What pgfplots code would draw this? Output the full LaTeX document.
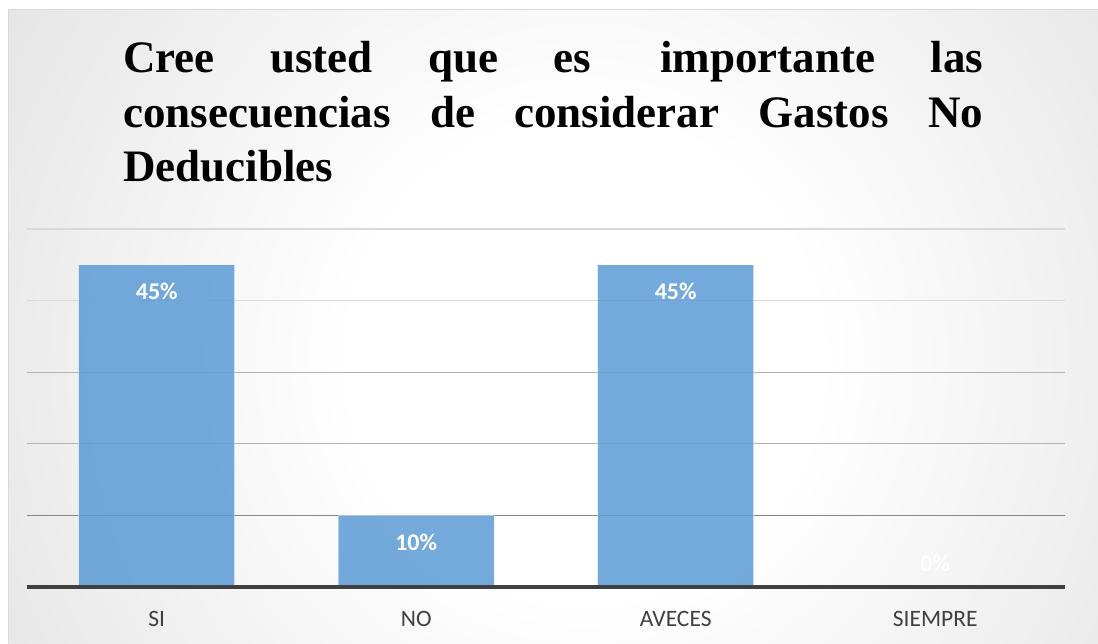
\documentclass[border=0pt]{standalone}
\usepackage{fontspec}
\setmainfont{Liberation Serif}
\newfontfamily\carlito{Carlito}
\usepackage{pgfplots}
\pgfplotsset{compat=1.18}
\definecolor{barblue}{RGB}{91,155,213}
\definecolor{axisdark}{RGB}{64,64,64}
\definecolor{labgray}{RGB}{64,64,64}
\pgfdeclareradialshading{bgshade}{\pgfpoint{0bp}{0bp}}{color(0bp)=(white); color(10bp)=(white); color(25bp)=(black!8); color(38bp)=(black!15); color(50bp)=(black!22); color(72bp)=(black!29)}

\begin{document}
\begin{tikzpicture}[x=1pt,y=1pt]
\useasboundingbox (0,0) rectangle (1098,643);
\begin{scope}
\clip (8,0) rectangle (1098,633);
\shade[shading=bgshade] (0,-317) rectangle (1170,883);
\end{scope}
\draw[color=black!15, line width=1pt] (8,0) -- (8,633) -- (1098,633);
\node[anchor=base west, inner sep=0pt, font=\fontsize{45}{54.5}\selectfont\bfseries] at (123,570.3)
 {\vtop{\baselineskip=54.5pt
   \hbox to 860pt{Cree usted que es\hspace{14pt} importante las}
   \hbox to 860pt{consecuencias de considerar Gastos No}
   \hbox{Deducibles}}};
\begin{axis}[
 at={(27pt,56pt)}, anchor=south west, scale only axis,
 width=1038pt, height=358pt,
 xmin=-0.5, xmax=3.5, ymin=0, ymax=50,
 xtick={0,1,2,3}, xticklabels={SI,NO,AVECES,SIEMPRE},
 ytick={40,50}, yticklabels={},
 extra y ticks={20,30}, extra y tick labels={},
 extra y tick style={grid=major, major grid style={color=black!30, line width=1.3pt}},
 minor ytick={10},
 ymajorgrids, yminorgrids,
 major grid style={color=black!15, line width=1.3pt},
 minor grid style={color=black!47, line width=1.3pt},
 axis line style={draw=none}, tick style={draw=none},
 xticklabel style={font=\carlito\fontsize{23.5}{28}\selectfont, text=labgray, anchor=base, yshift=-39pt},
 clip=false,
 nodes near coords={\pgfmathprintnumber[assume math mode=true]{\pgfplotspointmeta}\%},
]
\addplot[ybar, bar width=156pt, bar shift=0pt, fill=barblue, fill opacity=0.85,
  draw=white, draw opacity=0.45, line width=1pt,
  every node near coord/.append style={font=\carlito\bfseries\fontsize{24}{28}\selectfont, text=white, text opacity=1, anchor=base, yshift=-35pt}]
  coordinates {(0,45) (1,10) (2,45)};
\addplot[ybar, bar width=156pt, bar shift=0pt, draw=none, fill=none,
  every node near coord/.append style={font=\carlito\bfseries\fontsize{24}{28}\selectfont, text=white, text opacity=0.85, anchor=base, yshift=16pt}]
  coordinates {(3,0)};
\draw[axisdark, line width=3.5pt] (rel axis cs:0,0) -- (rel axis cs:1,0);
\end{axis}
\end{tikzpicture}
\end{document}
